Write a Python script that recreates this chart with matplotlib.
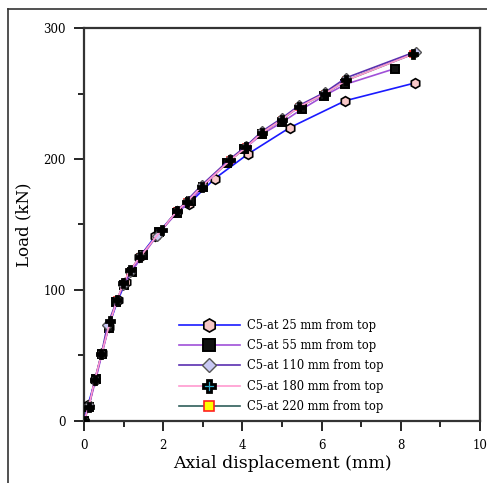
import numpy as np
import matplotlib.pyplot as plt
from matplotlib.lines import Line2D
from matplotlib.ticker import MultipleLocator

# load - displacement data
x25 = [0, 0.1, 0.28, 0.45, 0.62, 0.85, 1.05, 1.4, 1.8, 2.35, 2.65, 3.3, 4.15, 5.2, 6.6, 8.35]
y25 = [0, 12, 31, 52, 72, 92, 106, 125, 141, 160, 166, 185, 204, 224, 244.5, 258]

x55 = [0, 0.12, 0.3, 0.45, 0.62, 0.82, 1.0, 1.2, 1.5, 1.9, 2.35, 2.7, 3.0, 3.6, 4.05, 4.5, 5.0, 5.5, 6.05, 6.6, 7.85]
y55 = [0, 11, 32, 51, 71, 91, 104, 114, 127, 144, 159, 168, 179, 197, 208, 219, 228, 238, 248, 257, 269]

x110 = [0, 0.13, 0.27, 0.44, 0.59, 0.83, 0.99, 1.16, 1.41, 1.84, 2.34, 2.59, 2.97, 3.69, 4.1, 4.49, 4.99, 5.44, 6.09, 6.62, 8.38]
y110 = [0, 12, 31, 51, 73, 92, 104, 114, 126, 141, 160, 168, 180, 200, 210, 221, 231, 241, 251, 262, 282]

x180 = [0, 0.12, 0.27, 0.44, 0.66, 0.83, 0.99, 1.16, 1.41, 1.96, 2.34, 2.59, 2.97, 3.69, 4.1, 4.49, 4.99, 5.44, 6.09, 6.62, 8.3]
y180 = [0, 11, 31, 51, 76, 92, 105, 115, 125, 146, 160, 167, 179, 199, 209, 220, 230, 240, 250, 260, 280]

x220 = [0, 0.12, 0.27, 0.44, 0.62, 0.83, 0.99, 1.16, 1.41, 1.9, 2.34, 2.59, 2.97, 3.69, 4.1, 4.49, 4.99, 5.44, 6.09, 6.62, 8.3]
y220 = [0, 11, 31, 51, 72, 92, 104, 114, 125, 144, 160, 167, 179, 199, 209, 220, 230, 240, 250, 260, 280]

labels = ['C5-at 25 mm from top', 'C5-at 55 mm from top', 'C5-at 110 mm from top',
          'C5-at 180 mm from top', 'C5-at 220 mm from top']

plt.rcParams['font.family'] = ['DejaVu Serif']

fig = plt.figure(figsize=(4.87, 4.83), dpi=100)
ax = fig.add_axes([0.1725, 0.1284, 0.8131, 0.8136])

# bottom series first so the upper ones sit on top like in the picture
ax.plot(x220, y220, color='#2f5f5a', lw=1.2, marker='s', ms=5, mfc='#ffff00', mec='#ff2020', mew=1.2, label=labels[4], zorder=2)
ax.plot(x25, y25, color='#1a1aff', lw=1.2, marker='h', ms=7, mfc='#f8c8c8', mec='black', mew=1.2, label=labels[0], zorder=3)
ax.plot(x55, y55, color='#a050d8', lw=1.2, marker='s', ms=6, mfc='#111111', mec='black', mew=1.4, label=labels[1], zorder=4)
ax.plot(x110, y110, color='#5a2fb0', lw=1.2, marker='D', ms=5, mfc='#c8c8f4', mec='#555555', mew=1.0, label=labels[2], zorder=5)
ax.plot(x180, y180, color='#ff9ad0', lw=1.2, marker='P', ms=6, mfc='#30a8c8', mec='black', mew=2.0, label=labels[3], zorder=6)

ax.set_xlim(0, 10)
ax.set_ylim(0, 300)
ax.xaxis.set_major_locator(MultipleLocator(2))
ax.xaxis.set_minor_locator(MultipleLocator(1))
ax.yaxis.set_major_locator(MultipleLocator(100))
ax.yaxis.set_minor_locator(MultipleLocator(50))
ax.tick_params(which='major', direction='out', length=7, width=1.2, labelsize=8.5, pad=6)
ax.tick_params(which='minor', direction='out', length=4, width=1.2)

for s in ax.spines.values():
    s.set_linewidth(1.6)
    s.set_color('#333333')

ax.set_xlabel('Axial displacement (mm)', fontsize=12.5, labelpad=2)
ax.set_ylabel('Load (kN)', fontsize=12, labelpad=8)

h, l = ax.get_legend_handles_labels()
order = [1, 2, 3, 4, 0]
ax.legend([h[i] for i in order], [l[i] for i in order], loc='center',
          bbox_to_anchor=(0.497, 0.14), frameon=False, markerscale=1.35,
          fontsize=8.3, handlelength=5.3, labelspacing=0.62, handletextpad=0.6)

# outer frame of the screenshot
fig.add_artist(Line2D([0.0164, 0.0164], [0.0, 0.9814], color='#333333', lw=1.2))
fig.add_artist(Line2D([0.0164, 1.0], [0.9814, 0.9814], color='#333333', lw=1.2))

fig.savefig('out.png', dpi=100)
